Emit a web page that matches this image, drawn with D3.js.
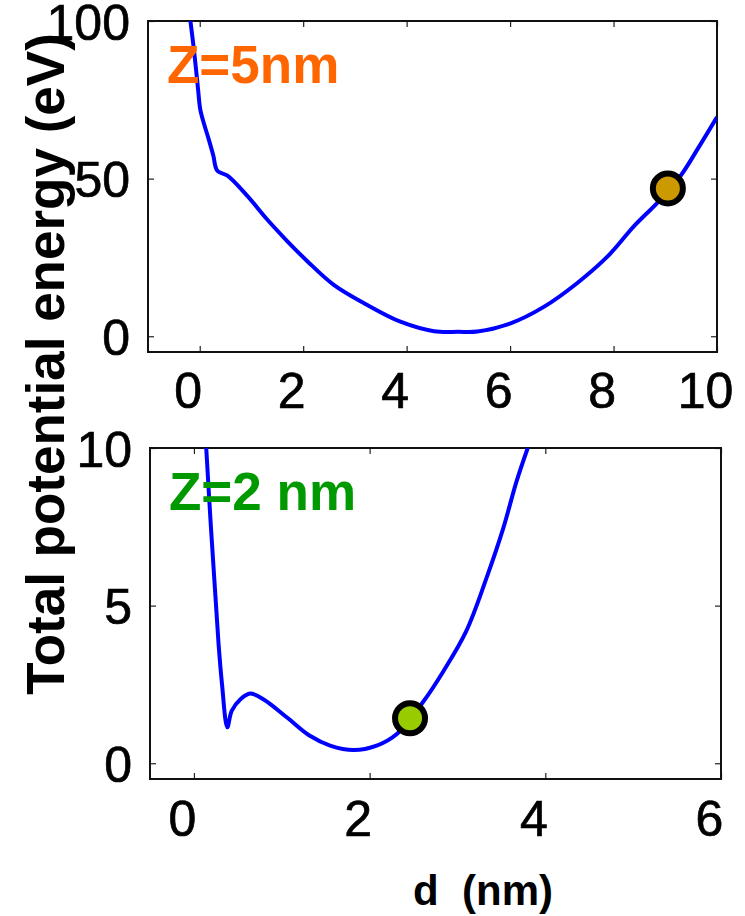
<!DOCTYPE html>
<html>
<head>
<meta charset="utf-8">
<script src="https://cdn.jsdelivr.net/npm/d3@7"></script>
<style>
  body { margin: 0; background: #fff; }
  svg text { font-family: "Liberation Sans", Arial, sans-serif; }
</style>
</head>
<body>
<svg id="chart" width="745" height="916"></svg>
<script>
// upper panel, Z = 5 nm
var topCurve = [
    [-0.18, 100], [-0.12, 92], [-0.08, 86], [-0.03, 78], [0.01, 72],
    [0.09, 67], [0.17, 62.7], [0.26, 57.5], [0.34, 52.5],
    [0.53, 51], [0.92, 44.5], [1.30, 37.1], [1.69, 30.2], [2.08, 23.8],
    [2.59, 16.3], [3.24, 9.9], [3.88, 4.6], [4.53, 1.6], [5.0, 1.4],
    [5.37, 1.5], [6.01, 4.1], [6.66, 9.4], [7.30, 16.9], [7.89, 25.4],
    [8.40, 35.0], [8.85, 42.4], [9.30, 51], [9.63, 59.5], [10, 69.5]
];
var topMarker = [9.05, 46.9];
var topXTicks = [0, 2, 4, 6, 8, 10];
var topYTicks = [0, 50, 100];

// lower panel, Z = 2 nm
var bottomCurve = [
    [0.14, 10.0], [0.19, 7.65], [0.24, 5.5], [0.28, 3.8], [0.32, 2.5],
    [0.38, 1.14], [0.43, 1.66], [0.53, 2.03], [0.64, 2.21], [0.79, 2.03],
    [1.06, 1.45], [1.32, 0.87], [1.55, 0.56], [1.82, 0.42], [2.08, 0.56],
    [2.31, 0.93], [2.61, 1.95], [2.84, 2.92], [3.10, 4.19], [3.33, 5.87],
    [3.52, 7.44], [3.67, 8.92], [3.80, 10.0]
];
var bottomMarker = [2.46, 1.43];
var bottomXTicks = [0, 2, 4, 6];
var bottomYTicks = [0, 5, 10];

var svg = d3.select('#chart');
var fmt = d3.format('d');

function drawPanel(cfg) {
    var x = d3.scaleLinear().domain(cfg.xDomain).range([cfg.left, cfg.right]);
    var y = d3.scaleLinear().domain(cfg.yDomain).range([cfg.bottom, cfg.top]);
    var g = svg.append('g');

    var clipId = 'clip' + cfg.name;
    g.append('clipPath').attr('id', clipId)
        .append('rect')
        .attr('x', cfg.left).attr('y', cfg.top)
        .attr('width', cfg.right - cfg.left).attr('height', cfg.bottom - cfg.top);

    // inward ticks on all four sides
    var ax = [
        { axis: d3.axisBottom(x), t: 'translate(0,' + cfg.bottom + ')', labels: true },
        { axis: d3.axisTop(x), t: 'translate(0,' + cfg.top + ')', labels: false }
    ];
    ax.forEach(function (a) {
        var sel = g.append('g')
            .attr('transform', a.t)
            .call(a.axis.tickValues(cfg.xTicks).tickFormat(fmt).tickSizeInner(-6).tickSizeOuter(0));
        sel.select('.domain').remove();
        sel.selectAll('.tick line').attr('stroke', '#222').attr('stroke-width', 1.2);
        if (a.labels) {
            sel.selectAll('.tick text')
                .attr('y', cfg.xLabelY).attr('dy', 0).attr('dx', -12)
                .attr('fill', '#000')
                .attr('stroke', '#000').attr('stroke-width', 0.7)
                .style('font-size', '50px');
        } else {
            sel.selectAll('.tick text').remove();
        }
    });

    var ay = [
        { axis: d3.axisLeft(y), t: 'translate(' + cfg.left + ',0)', labels: true },
        { axis: d3.axisRight(y), t: 'translate(' + cfg.right + ',0)', labels: false }
    ];
    ay.forEach(function (a) {
        var sel = g.append('g')
            .attr('transform', a.t)
            .call(a.axis.tickValues(cfg.yTicks).tickFormat(fmt).tickSizeInner(-6).tickSizeOuter(0));
        sel.select('.domain').remove();
        sel.selectAll('.tick line').attr('stroke', '#222').attr('stroke-width', 1.2);
        if (a.labels) {
            sel.selectAll('.tick text')
                .attr('x', -18).attr('dy', '0.36em')
                .attr('fill', '#000')
                .attr('stroke', '#000').attr('stroke-width', 0.7)
                .style('font-size', '50px');
        } else {
            sel.selectAll('.tick text').remove();
        }
    });

    g.append('rect')
        .attr('x', cfg.left).attr('y', cfg.top)
        .attr('width', cfg.right - cfg.left).attr('height', cfg.bottom - cfg.top)
        .attr('fill', 'none').attr('stroke', '#111').attr('stroke-width', 2);

    var line = d3.line()
        .curve(d3.curveCatmullRom.alpha(0.5))
        .x(function (d) { return x(d[0]); })
        .y(function (d) { return y(d[1]); });

    g.append('path')
        .datum(cfg.curve)
        .attr('clip-path', 'url(#' + clipId + ')')
        .attr('d', line)
        .attr('fill', 'none')
        .attr('stroke', '#0000ff')
        .attr('stroke-width', 4)
        .attr('stroke-linejoin', 'round');

    g.append('text')
        .attr('x', cfg.labelX).attr('y', cfg.labelY)
        .attr('fill', cfg.labelColor)
        .style('font-size', '53px').style('font-weight', 'bold')
        .text(cfg.label);

    g.append('circle')
        .attr('cx', x(cfg.marker[0])).attr('cy', y(cfg.marker[1]))
        .attr('r', 15)
        .attr('fill', cfg.markerColor)
        .attr('stroke', '#000').attr('stroke-width', 6);
}

drawPanel({
    name: 'top', left: 148, right: 717, top: 21, bottom: 352,
    xDomain: [-1, 10], yDomain: [-5, 100],
    xTicks: topXTicks, yTicks: topYTicks, xLabelY: 56,
    curve: topCurve, marker: topMarker, markerColor: '#cc9900',
    label: 'Z=5nm', labelColor: '#ff6600', labelX: 167, labelY: 83
});

drawPanel({
    name: 'bottom', left: 150, right: 721, top: 448, bottom: 779,
    xDomain: [-0.5, 6], yDomain: [-0.5, 10],
    xTicks: bottomXTicks, yTicks: bottomYTicks, xLabelY: 57,
    curve: bottomCurve, marker: bottomMarker, markerColor: '#99cc00',
    label: 'Z=2 nm', labelColor: '#009900', labelX: 169, labelY: 510
});

svg.append('text')
    .attr('transform', 'translate(64,364) rotate(-90)')
    .attr('text-anchor', 'middle')
    .style('font-size', '53px').style('font-weight', 'bold')
    .text('Total potential energy (eV)');

svg.append('text')
    .attr('x', 413).attr('y', 905)
    .style('font-size', '42px').style('font-weight', 'bold')
    .style('white-space', 'pre')
    .text('d  (nm)');
</script>
</body>
</html>
